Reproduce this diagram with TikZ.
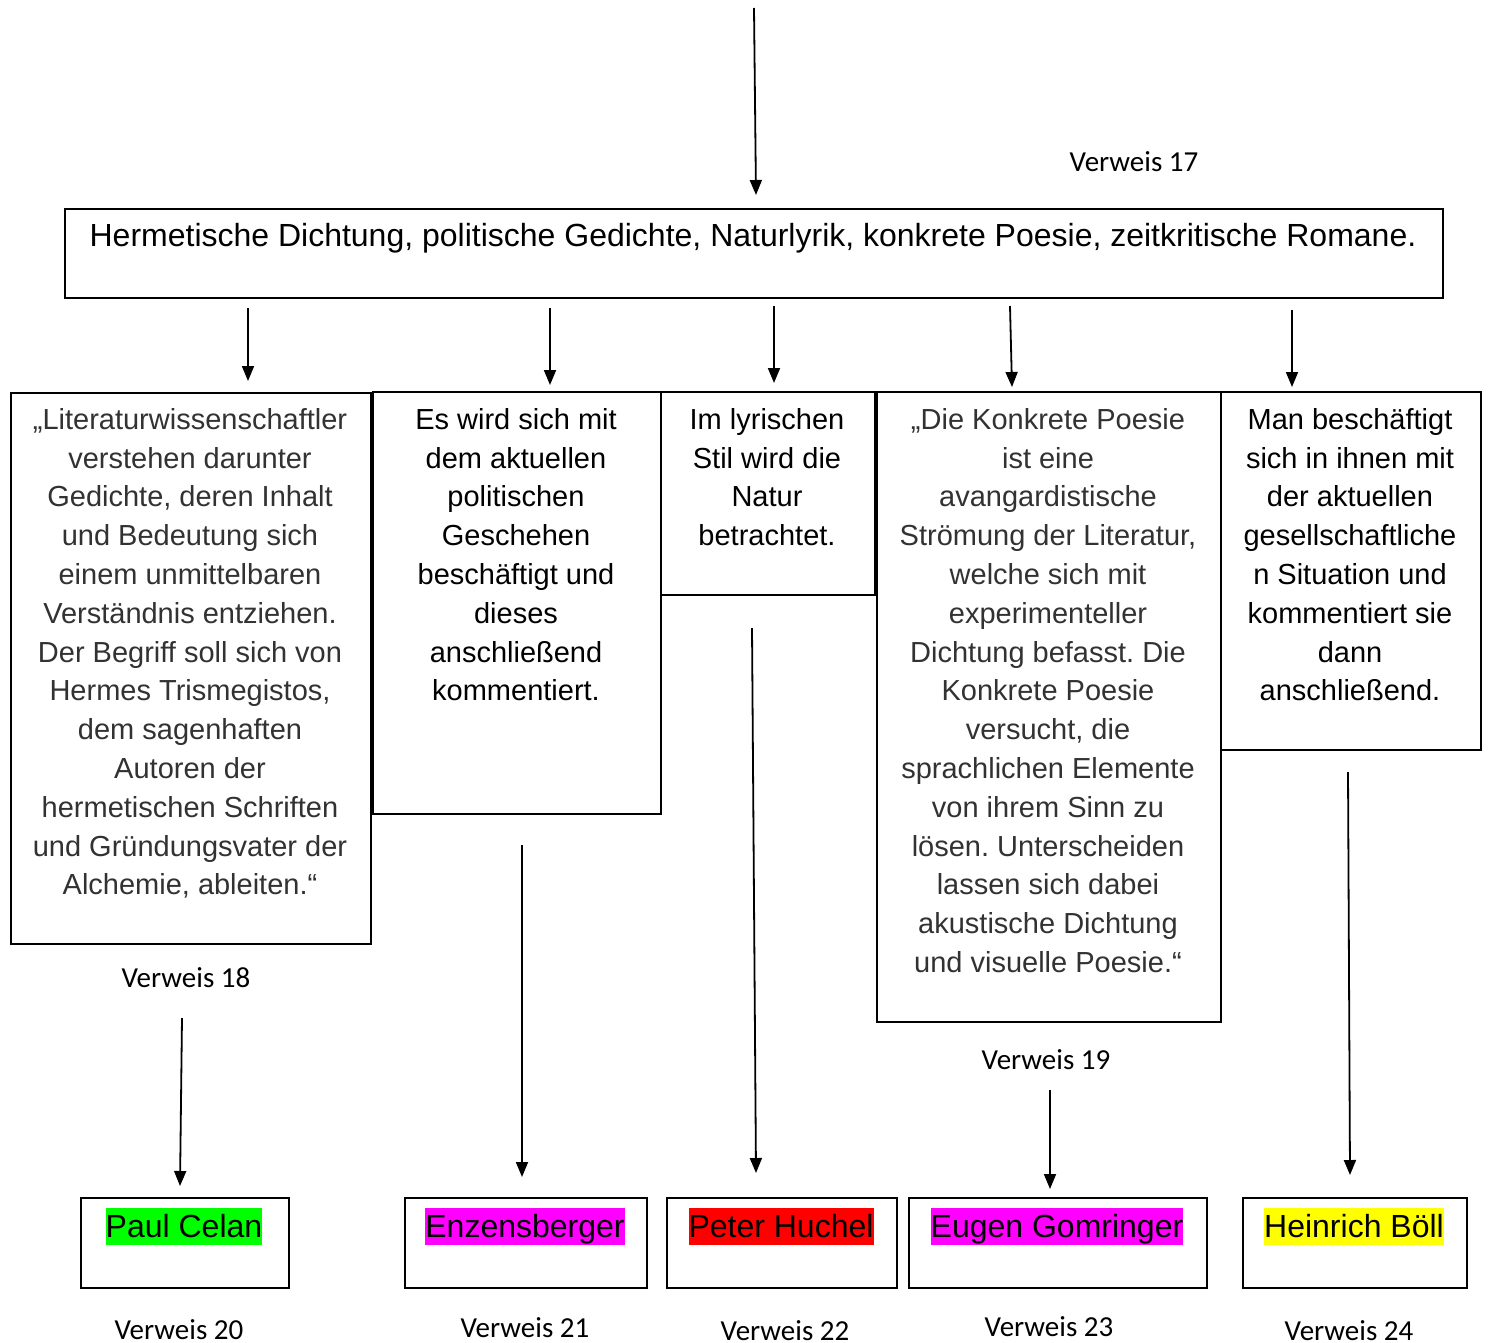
\documentclass[tikz,border=0pt]{standalone}
\usepackage{fontspec}
\setmainfont{Liberation Sans}
\newfontfamily\calib{Carlito}
\usetikzlibrary{arrows.meta}
\definecolor{txtgray}{RGB}{50,50,50}
\definecolor{hlgreen}{RGB}{0,255,0}
\definecolor{hlmag}{RGB}{255,0,255}
\definecolor{hlred}{RGB}{255,0,0}
\definecolor{hlyellow}{RGB}{255,255,0}
\frenchspacing
\begin{document}
\begin{tikzpicture}[x=1pt,y=-1pt,
  box/.style={draw,line width=1.8pt,inner sep=0pt,anchor=north west},
  body/.style={anchor=north,inner sep=0pt,align=center,font=\fontsize{29}{38.8}\selectfont},
  arr/.style={line width=1.8pt,-{Triangle[length=15pt,width=12pt]}},
  ref/.style={font=\calib\fontsize{29}{34}\selectfont,inner sep=0pt},
  who/.style={font=\fontsize{32}{37}\selectfont,inner sep=0pt,anchor=north,text height=29pt,text depth=8pt}]
\useasboundingbox (0,0) rectangle (1488,1343);
\fill[white] (0,0) rectangle (1488,1343);

% header
\node[box,minimum width=1378pt,minimum height=89pt] (head) at (64,208) {};
\node[inner sep=0pt,font=\fontsize{32}{38}\selectfont] (headtxt) at (753,238) {Hermetische Dichtung, politische Gedichte, Naturlyrik, konkrete Poesie, zeitkritische Romane.};
\node[ref] (v17) at (1134,162) {Verweis 17};

% middle boxes
\node[box,minimum width=360pt,minimum height=551pt] (ba) at (10,392) {};
\node[box,minimum width=288pt,minimum height=422pt] (bb) at (372,391) {};
\node[box,minimum width=214pt,minimum height=203pt] (bc) at (660,391) {};
\node[box,minimum width=344pt,minimum height=630pt] (bd) at (876,391) {};
\node[box,minimum width=260pt,minimum height=358pt] (be) at (1220,391) {};

\node[body,text=txtgray] (ta) at (190,408) {„Literaturwissenschaftler\\verstehen darunter\\Gedichte, deren Inhalt\\und Bedeutung sich\\einem unmittelbaren\\Verständnis entziehen.\\Der Begriff soll sich von\\Hermes Trismegistos,\\dem sagenhaften\\Autoren der\\hermetischen Schriften\\und Gründungsvater der\\Alchemie, ableiten.“};
\node[body] (tb) at (516,408) {Es wird sich mit\\dem aktuellen\\politischen\\Geschehen\\beschäftigt und\\dieses\\anschließend\\kommentiert.};
\node[body] (tc) at (767,408) {Im lyrischen\\Stil wird die\\Natur\\betrachtet.};
\node[body,text=txtgray] (td) at (1048,408) {„Die Konkrete Poesie\\ist eine\\avangardistische\\Strömung der Literatur,\\welche sich mit\\experimenteller\\Dichtung befasst. Die\\Konkrete Poesie\\versucht, die\\sprachlichen Elemente\\von ihrem Sinn zu\\lösen. Unterscheiden\\lassen sich dabei\\akustische Dichtung\\und visuelle Poesie.“};
\node[body] (te) at (1350,408) {Man beschäftigt\\sich in ihnen mit\\der aktuellen\\gesellschaftliche\\n Situation und\\kommentiert sie\\dann\\anschließend.};

\node[ref] (v18) at (186,978) {Verweis 18};
\node[ref] (v19) at (1046,1060) {Verweis 19};

% name boxes
\node[box,minimum width=208pt,minimum height=90pt] (na) at (80,1197) {};
\node[box,minimum width=242pt,minimum height=90pt] (nb) at (404,1197) {};
\node[box,minimum width=230pt,minimum height=90pt] (nc) at (666,1197) {};
\node[box,minimum width=298pt,minimum height=90pt] (nd) at (908,1197) {};
\node[box,minimum width=224pt,minimum height=90pt] (ne) at (1242,1197) {};

\node[who,fill=hlgreen] (wa) at (184,1208) {Paul Celan};
\node[who,fill=hlmag] (wb) at (525,1208) {Enzensberger};
\node[who,fill=hlred] (wc) at (781,1208) {Peter Huchel};
\node[who,fill=hlmag] (wd) at (1057,1208) {Eugen Gomringer};
\node[who,fill=hlyellow] (we) at (1354,1208) {Heinrich Böll};

\node[ref] (v20) at (179,1330) {Verweis 20};
\node[ref] (v21) at (525,1328) {Verweis 21};
\node[ref] (v22) at (785,1331) {Verweis 22};
\node[ref] (v23) at (1049,1327) {Verweis 23};
\node[ref] (v24) at (1349,1331) {Verweis 24};

% arrow end points
\coordinate (s0) at (754,8);    \coordinate (e0) at (756,195);
\coordinate (s1) at (248,308);  \coordinate (e1) at (248,381);
\coordinate (s2) at (550,308);  \coordinate (e2) at (550,385);
\coordinate (s3) at (774,306);  \coordinate (e3) at (774,383);
\coordinate (s4) at (1010,306); \coordinate (e4) at (1012,387);
\coordinate (s5) at (1292,310); \coordinate (e5) at (1292,387);
\coordinate (s6) at (182,1018); \coordinate (e6) at (180,1186);
\coordinate (s7) at (522,845);  \coordinate (e7) at (522,1177);
\coordinate (s8) at (752,628);  \coordinate (e8) at (756,1173);
\coordinate (s9) at (1050,1090);\coordinate (e9) at (1050,1189);
\coordinate (s10) at (1348,772);\coordinate (e10) at (1350,1175);

\foreach \i in {0,...,10} \draw[arr] (s\i) -- (e\i);
\end{tikzpicture}
\end{document}
